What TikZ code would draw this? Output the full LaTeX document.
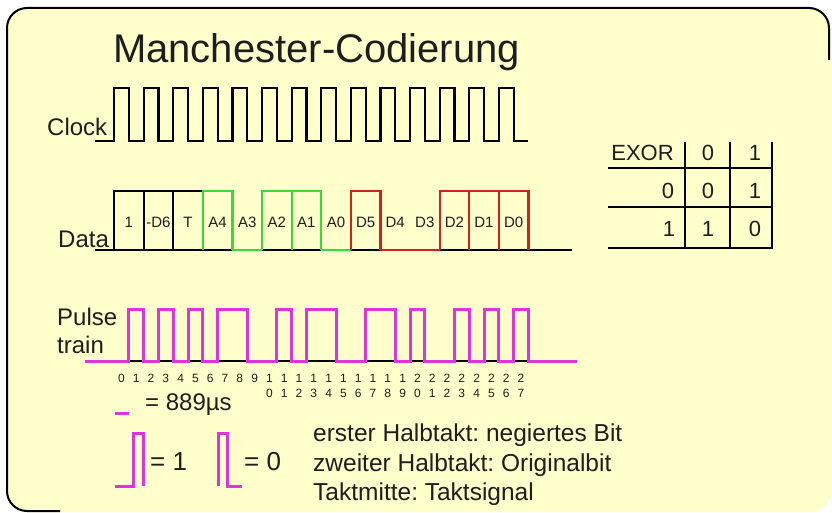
\documentclass[tikz,border=0pt]{standalone}
\usepackage{fontspec}
\setmainfont{Liberation Sans}
\frenchspacing
\definecolor{bgyellow}{RGB}{255,255,204}
\definecolor{pmag}{RGB}{225,50,225}
\definecolor{dgreen}{RGB}{50,222,50}
\definecolor{dred}{RGB}{215,30,30}
\definecolor{txt}{RGB}{30,30,30}
\tikzset{
  sig/.style={line width=2.2pt, line join=miter, line cap=butt, draw=black},
  pulsew/.style={line width=3pt, line join=miter, line cap=butt, draw=pmag},
  frame/.style={line width=2pt, draw=black, rounded corners=20pt},
  tbl/.style={line width=2pt, draw=black},
  lbl/.style={text=txt, inner sep=0pt, font=\fontsize{24}{24}\selectfont},
  boxlabel/.style={text=txt, inner sep=0pt, anchor=base, font=\fontsize{15}{15}\selectfont},
  num/.style={text=txt, inner sep=0pt, anchor=base, font=\fontsize{12}{12}\selectfont},
  cell/.style={text=txt, inner sep=0pt, anchor=base, font=\fontsize{22}{22}\selectfont},
  note/.style={text=txt, inner sep=0pt, anchor=base west, font=\fontsize{24.5}{24.5}\selectfont}
}
\begin{document}
\begin{tikzpicture}[x=1pt,y=-1pt]
\useasboundingbox (0,0) rectangle (832,513);
\fill[white] (0,0) rectangle (832,513);
\fill[bgyellow, rounded corners=20pt] (7,8) rectangle (831,512);
\draw[frame] (60,511) -- (7,511) -- (7,8) -- (829,8) -- (829,60);

% title
\node[text=txt, inner sep=0pt, anchor=base, font=\fontsize{40}{40}\selectfont] (title) at (316.5,63) {Manchester-Codierung};

% clock
\node[lbl, anchor=base west] (clock) at (47,136) {Clock};
\draw[sig] (95,141) \foreach \i in {0,...,13} { -- ({114+29.6*\i},141) -- ({114+29.6*\i},88) -- ({114+29.6*\i+14.8},88) -- ({114+29.6*\i+14.8},141) } -- (528,141);

% data
\node[lbl, anchor=base west] (data) at (58,247) {Data};
\draw[sig] (95,250) -- (572,250);
\foreach \i/\v/\c/\t in {0/1/black/1, 1/1/black/-D6, 2/1/black/T, 3/1/dgreen/A4, 4/0/dgreen/A3, 5/1/dgreen/A2, 6/1/dgreen/A1, 7/0/dgreen/A0, 8/1/dred/D5, 9/0/dred/D4, 10/0/dred/D3, 11/1/dred/D2, 12/1/dred/D1, 13/1/dred/D0} {
  \pgfmathsetmacro\xl{114+29.6*\i}
  \pgfmathsetmacro\xr{\xl+29.6}
  \ifnum\v=1
    \draw[sig, draw=\c] (\xl,250) -- (\xl,191) -- (\xr,191) -- (\xr,250);
  \else
    \draw[sig, draw=\c] (\xl,250) -- (\xr,250);
  \fi
  \node[boxlabel] (d\i) at ({\xl+14.8},227) {\t};
}

% pulse train
\node[lbl, anchor=base west] (pulse) at (57,325) {Pulse};
\node[lbl, anchor=base west] (train) at (57,353) {train};
\draw[sig] (85,361) -- (577,361);
\draw[pulsew] (85,361) \foreach \a/\b in {128.8/143.6, 158.4/173.2, 188/202.8, 217.6/247.2, 276.8/291.6, 306.4/336, 365.6/395.2, 410/424.8, 454.4/469.2, 484/498.8, 513.6/528.4} { -- (\a,361) -- (\a,309) -- (\b,309) -- (\b,361) } -- (577,361);

% half-bit numbers
\foreach \k in {0,...,27} {
  \pgfmathsetmacro\xx{121.4+14.8*\k}
  \ifnum\k<10
    \node[num] (n\k) at (\xx,382) {\k};
  \else
    \pgfmathtruncatemacro\tens{int(\k/10)}
    \pgfmathtruncatemacro\units{\k-10*\tens}
    \node[num] (n\k a) at (\xx,382) {\tens};
    \node[num] (n\k b) at (\xx,397) {\units};
  \fi
}

% legend
\draw[pulsew] (115,413) -- (129,413);
\node[text=txt, inner sep=0pt, anchor=base west, font=\fontsize{24}{24}\selectfont] (dur) at (145,410) {= 889µs};
\draw[pulsew] (115,486) -- (133,486) -- (133,433) -- (143,433) -- (143,486);
\node[text=txt, inner sep=0pt, anchor=base west, font=\fontsize{26}{26}\selectfont] (one) at (150,470) {= 1};
\draw[pulsew] (218,486) -- (218,433) -- (227,433) -- (227,486) -- (242,486);
\node[text=txt, inner sep=0pt, anchor=base west, font=\fontsize{26}{26}\selectfont] (zero) at (244,470) {= 0};

\node[note] (l1) at (313,441.7) {erster Halbtakt: negiertes Bit};
\node[note] (l2) at (313,471.5) {zweiter Halbtakt: Originalbit};
\node[note] (l3) at (313,500) {Taktmitte: Taktsignal};

% EXOR table
\draw[tbl] (608,168) -- (773,168);
\draw[tbl] (608,207) -- (773,207);
\draw[tbl] (608,248) -- (773,248);
\draw[tbl] (685,142) -- (685,248);
\draw[tbl] (730,142) -- (730,248);
\draw[tbl] (772,142) -- (772,248);
\node[cell] (exor) at (642.5,160.5) {EXOR};
\node[cell] (h0) at (708,160.5) {0};
\node[cell] (h1) at (755,160.5) {1};
\node[cell] (r0) at (668,198) {0};
\node[cell] (c00) at (708,198) {0};
\node[cell] (c01) at (755,198) {1};
\node[cell] (r1) at (669,236.5) {1};
\node[cell] (c10) at (708,236.5) {1};
\node[cell] (c11) at (755,236.5) {0};
\end{tikzpicture}
\end{document}
